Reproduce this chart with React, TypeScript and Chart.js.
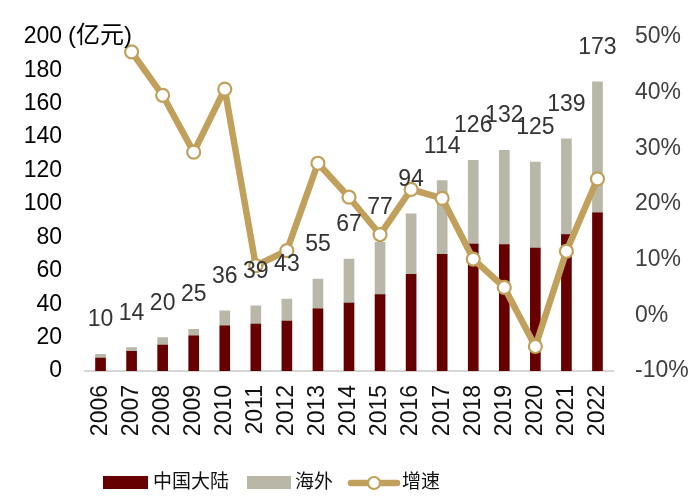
import React, { useEffect, useRef } from 'react';
import { Chart, registerables } from 'chart.js';

Chart.register(...registerables);

const years = ['2006', '2007', '2008', '2009', '2010', '2011', '2012', '2013', '2014', '2015', '2016', '2017', '2018', '2019', '2020', '2021', '2022'];
const totals = [10, 14, 20, 25, 36, 39, 43, 55, 67, 77, 94, 114, 126, 132, 125, 139, 173];
const mainland = [7.8, 11.8, 15.5, 21, 27, 28.1, 29.9, 37.2, 40.7, 45.8, 57.8, 69.8, 75.9, 75.7, 73.5, 81.6, 94.6];
const growth = [null, 47.3, 39.5, 29.3, 40.6, 8.9, 11.6, 27.3, 21.2, 14.5, 22.6, 21.0, 10.1, 5.0, -5.6, 11.5, 24.5];
const overseas = totals.map((t, i) => +(t - mainland[i]).toFixed(1));
const seriesNames = ['中国大陆', '海外', '增速'];
const unitLabel = '(亿元)';

const FONT = "'Liberation Sans', Arial, 'Noto Sans CJK SC', sans-serif";
const RED = '#660000';
const GRAY = '#B8B7A8';
const GOLD = '#C1A05C';

const overlay = {
  id: 'overlay',
  afterDatasetsDraw(chart: any) {
    const ctx = chart.ctx;
    const xs = chart.scales.x;
    const ys = chart.scales.y;
    ctx.save();
    ctx.font = `23px ${FONT}`;
    ctx.fillStyle = '#333333';
    ctx.textAlign = 'center';
    ctx.textBaseline = 'alphabetic';
    totals.forEach((t, i) => {
      ctx.fillText(String(t), xs.getPixelForValue(i), ys.getPixelForValue(t) - 28);
    });
    ctx.restore();
  },
  afterDraw(chart: any) {
    const ctx = chart.ctx;
    const ys = chart.scales.y;
    ctx.save();
    // unit
    ctx.font = `24px ${FONT}`;
    ctx.fillStyle = '#000000';
    ctx.textAlign = 'left';
    ctx.textBaseline = 'middle';
    ctx.fillText(unitLabel, 68, ys.getPixelForValue(200));
    // legend
    const ly = 483;
    ctx.font = `19px ${FONT}`;
    ctx.fillStyle = RED;
    ctx.fillRect(103, ly - 7, 45, 13);
    ctx.fillStyle = GRAY;
    ctx.fillRect(247, ly - 7, 44, 13);
    ctx.strokeStyle = GOLD;
    ctx.lineWidth = 6.5;
    ctx.lineCap = 'round';
    ctx.beginPath();
    ctx.moveTo(351, ly);
    ctx.lineTo(397, ly);
    ctx.stroke();
    ctx.beginPath();
    ctx.arc(374, ly, 6, 0, Math.PI * 2);
    ctx.fillStyle = '#ffffff';
    ctx.fill();
    ctx.lineWidth = 2.2;
    ctx.stroke();
    ctx.fillStyle = '#111111';
    ctx.fillText(seriesNames[0], 153, ly);
    ctx.fillText(seriesNames[1], 295, ly);
    ctx.fillText(seriesNames[2], 402, ly);
    ctx.restore();
  },
};

export default function App() {
  const ref = useRef<HTMLCanvasElement | null>(null);
  useEffect(() => {
    document.body.style.margin = '0';
    if (!ref.current) return;
    const chart = new Chart(ref.current, {
      type: 'bar',
      data: {
        labels: years,
        datasets: [
          {
            type: 'line',
            label: seriesNames[2],
            data: growth,
            yAxisID: 'y1',
            order: 0,
            borderColor: GOLD,
            borderWidth: 6.5,
            borderJoinStyle: 'round',
            borderCapStyle: 'round',
            pointRadius: 6.5,
            pointBackgroundColor: '#ffffff',
            pointBorderColor: GOLD,
            pointBorderWidth: 2.2,
            tension: 0,
          } as any,
          {
            type: 'bar',
            label: seriesNames[0],
            data: mainland,
            backgroundColor: RED,
            yAxisID: 'y',
            stack: 's',
            order: 1,
            barThickness: 10,
          },
          {
            type: 'bar',
            label: seriesNames[1],
            data: overseas,
            backgroundColor: GRAY,
            yAxisID: 'y',
            stack: 's',
            order: 2,
            barThickness: 10,
          },
        ],
      },
      options: {
        responsive: false,
        animation: false,
        layout: { padding: { top: 32, left: 0, right: 0, bottom: 0 } },
        plugins: {
          legend: { display: false },
          tooltip: { enabled: false },
        },
        scales: {
          x: {
            stacked: true,
            offset: true,
            grid: { display: false, drawTicks: false },
            border: { display: true, color: '#D6D6D6', width: 2 },
            ticks: {
              autoSkip: false,
              maxRotation: 90,
              minRotation: 90,
              padding: 14,
              color: '#111111',
              font: { family: FONT, size: 23 },
            },
            afterFit: (s: any) => { s.height = 133; },
          },
          y: {
            stacked: true,
            position: 'left',
            min: 0,
            max: 200,
            grid: { display: false, drawTicks: false },
            border: { display: false },
            ticks: {
              stepSize: 20,
              padding: 23,
              color: '#000000',
              font: { family: FONT, size: 23 },
            },
            afterFit: (s: any) => { s.width = 85; },
          },
          y1: {
            position: 'right',
            min: -10,
            max: 50,
            grid: { display: false, drawTicks: false },
            border: { display: false },
            ticks: {
              stepSize: 10,
              padding: 22,
              color: '#404040',
              font: { family: FONT, size: 23 },
              callback: (v: any) => `${v}%`,
            },
            afterFit: (s: any) => { s.width = 87; },
          },
        },
      },
      plugins: [overlay],
    });
    return () => chart.destroy();
  }, []);
  return <canvas ref={ref} width={700} height={504} style={{ display: 'block' }} />;
}
